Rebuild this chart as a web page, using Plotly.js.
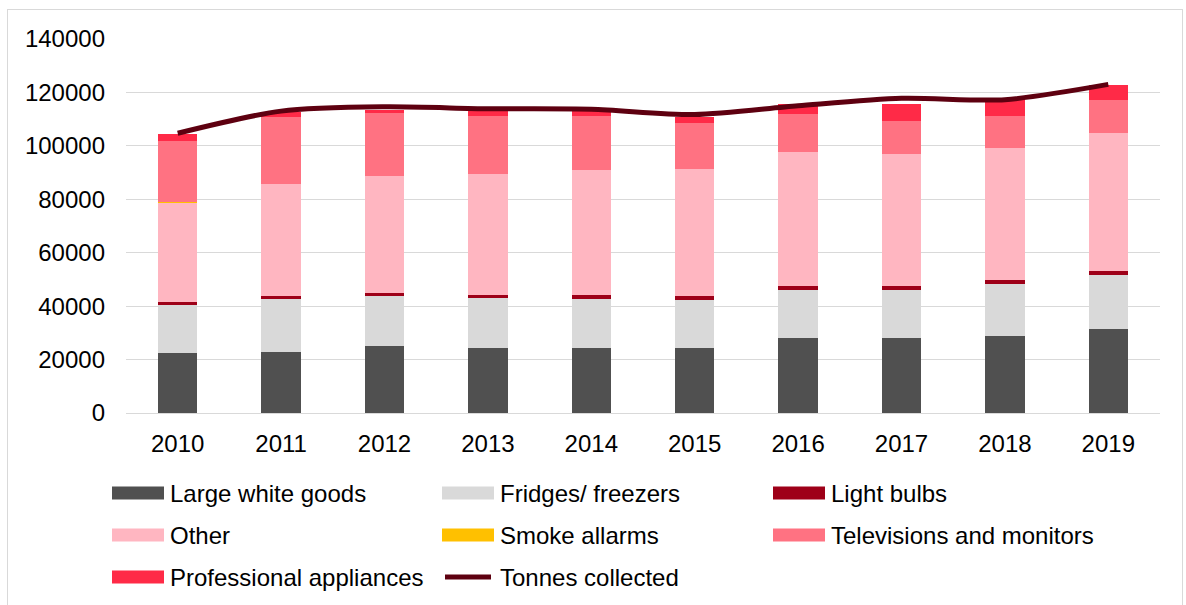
<!DOCTYPE html>
<html>
<head>
<meta charset="utf-8">
<script src="https://cdn.plot.ly/plotly-3.0.1.min.js"></script>
<style>
  html, body { margin: 0; padding: 0; background: #ffffff; }
  #wrap { position: relative; width: 1186px; height: 605px; overflow: hidden; }
  #frame { position: absolute; left: 7px; top: 9px; width: 1176px; height: 620px; border: 1px solid #d9d9d9; box-sizing: border-box; pointer-events: none; }
  #chart { position: absolute; left: 0; top: 0; width: 1186px; height: 605px; }
</style>
</head>
<body>
<div id="wrap">
  <div id="chart"></div>
  <div id="frame"></div>
</div>
<script>
const years = ['2010','2011','2012','2013','2014','2015','2016','2017','2018','2019'];
const largeWhiteGoods = [22600, 22700, 25000, 24300, 24300, 24200, 28100, 28100, 28700, 31300];
const fridgesFreezers = [17900, 19900, 18700, 18600, 18500, 18100, 18100, 18100, 19700, 20300];
const lightBulbs      = [1200, 1350, 1250, 1250, 1400, 1500, 1500, 1500, 1500, 1500];
const otherItems      = [37050, 41650, 43650, 45250, 46650, 47400, 50000, 49150, 49250, 51750];
const smokeAllarms    = [150, 40, 40, 40, 40, 40, 40, 40, 40, 40];
const tvMonitors      = [23100, 25100, 23700, 21850, 20450, 17350, 14250, 12500, 12100, 12300];
const professional    = [2400, 2100, 1100, 1650, 1650, 2350, 3750, 6250, 6100, 5500];
const tonnesCollected = [104700, 113000, 114600, 113900, 113700, 111700, 115000, 117800, 117300, 123000];

const seriesNames  = ['Large white goods','Fridges/ freezers','Light bulbs','Other','Smoke allarms','Televisions and monitors','Professional appliances'];
const seriesValues = [largeWhiteGoods, fridgesFreezers, lightBulbs, otherItems, smokeAllarms, tvMonitors, professional];
const seriesColors = ['#505050','#d9d9d9','#9e0018','#ffb6c1','#ffc000','#ff7282','#ff2a47'];
const lineName = 'Tonnes collected';
const lineColor = '#5e0010';

const FONT = 'Arial, "Liberation Sans", sans-serif';
const FS = 24;

const traces = seriesNames.map((n, i) => ({
  type: 'bar', name: n, x: years, y: seriesValues[i],
  marker: { color: seriesColors[i], line: { width: 0 } },
  hoverinfo: 'x+y+name'
}));
traces.push({
  type: 'scatter', mode: 'lines', name: lineName, x: years, y: tonnesCollected,
  line: { color: lineColor, width: 5, shape: 'spline', smoothing: 0.8 },
  hoverinfo: 'x+y+name'
});

// Custom legend (paper coordinates), 3 columns x 3 rows
const L = 126, R = 1160, T = 39, B = 413;
const W = R - L, H = B - T;
const px = v => (v - L) / W;
const py = v => (B - v) / H;
const colX = [112, 442, 773];
const rowY = [493, 535, 577];
const items = seriesNames.map((n, i) => ({ name: n, color: seriesColors[i], kind: 'bar' }));
items.push({ name: lineName, color: lineColor, kind: 'line' });

const shapes = [];
const annotations = [];
items.forEach((it, k) => {
  const c = k % 3, r = Math.floor(k / 3);
  const x0 = colX[c], y = rowY[r];
  if (it.kind === 'bar') {
    shapes.push({ type: 'rect', xref: 'paper', yref: 'paper',
      x0: px(x0), x1: px(x0 + 52), y0: py(y + 6.5), y1: py(y - 6.5),
      fillcolor: it.color, line: { width: 0 } });
  } else {
    shapes.push({ type: 'line', xref: 'paper', yref: 'paper',
      x0: px(x0 + 3), x1: px(x0 + 49), y0: py(y), y1: py(y),
      line: { color: it.color, width: 5 } });
  }
  annotations.push({ xref: 'paper', yref: 'paper', x: px(x0 + 56), y: py(y),
    xanchor: 'left', yanchor: 'middle', showarrow: false, text: it.name,
    font: { family: FONT, size: FS, color: '#000000' } });
});

const layout = {
  width: 1186, height: 605,
  margin: { l: L, r: 1186 - R, t: T, b: 605 - B, pad: 0 },
  paper_bgcolor: '#ffffff', plot_bgcolor: '#ffffff',
  barmode: 'stack', bargap: 0.62,
  showlegend: false,
  font: { family: FONT, size: FS, color: '#000000' },
  xaxis: { type: 'category', showgrid: false, zeroline: false, showline: true,
           linecolor: '#d9d9d9', linewidth: 1, ticks: '', ticklabelstandoff: 9,
           tickfont: { family: FONT, size: FS, color: '#000000' } },
  yaxis: { range: [0, 140000], dtick: 20000, tick0: 0, showgrid: true,
           gridcolor: '#d9d9d9', gridwidth: 1, zeroline: false, showline: false,
           ticks: '', ticklabelstandoff: 20, tickformat: 'd',
           tickfont: { family: FONT, size: FS, color: '#000000' } },
  shapes: shapes,
  annotations: annotations
};

Plotly.newPlot('chart', traces, layout, { displayModeBar: false, staticPlot: true });
</script>
</body>
</html>
